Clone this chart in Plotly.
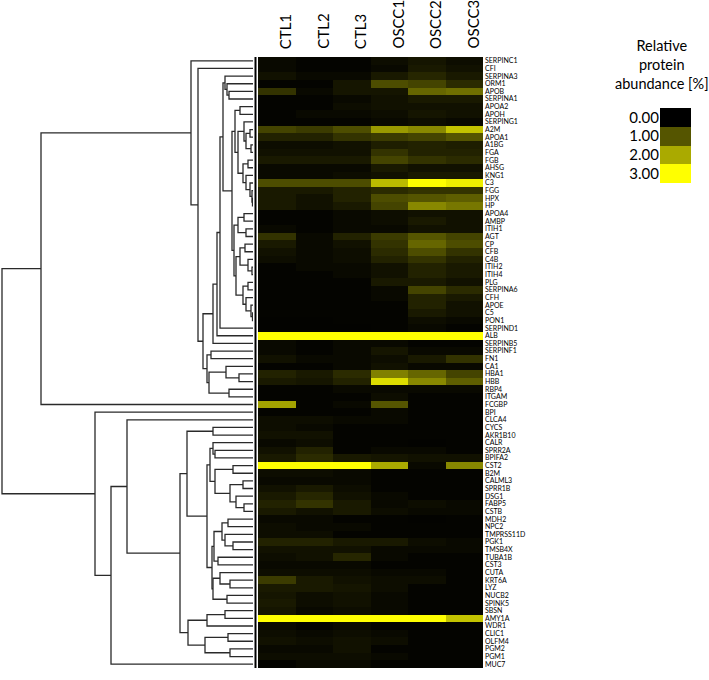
import plotly.graph_objects as go

# ---------------- data ----------------
samples = ["CTL1", "CTL2", "CTL3", "OSCC1", "OSCC2", "OSCC3"]

proteins = ["SERPINC1", "CFI", "SERPINA3", "ORM1", "APOB", "SERPINA1", "APOA2", "APOH",
            "SERPING1", "A2M", "APOA1", "A1BG", "FGA", "FGB", "AHSG", "KNG1", "C3", "FGG",
            "HPX", "HP", "APOA4", "AMBP", "ITIH1", "AGT", "CP", "CFB", "C4B", "ITIH2",
            "ITIH4", "PLG", "SERPINA6", "CFH", "APOE", "C5", "PON1", "SERPIND1", "ALB",
            "SERPINB5", "SERPINF1", "FN1", "CA1", "HBA1", "HBB", "RBP4", "ITGAM", "FCGBP",
            "BPI", "CLCA4", "CYCS", "AKR1B10", "CALR", "SPRR2A", "BPIFA2", "CST2", "B2M",
            "CALML3", "SPRR1B", "DSG1", "FABP5", "CSTB", "MDH2", "NPC2", "TMPRSS11D", "PGK1",
            "TMSB4X", "TUBA1B", "CST3", "CUTA", "KRT6A", "LYZ", "NUCB2", "SPINK5", "SBSN",
            "AMY1A", "WDR1", "CLIC1", "OLFM4", "PGM2", "PGM1", "MUC7"]

ctl1 = [0.1, 0.1, 0.2, 0.05, 0.6, 0.05, 0.05, 0.05, 0.05, 0.8, 0.4, 0.15, 0.2, 0.3, 0.1, 0.1,
        0.9, 0.3, 0.3, 0.3, 0.05, 0.05, 0.1, 0.6, 0.3, 0.2, 0.15, 0.05, 0.05, 0.05, 0.05, 0.05,
        0.05, 0.05, 0.03, 0.03, 3.0, 0.1, 0.1, 0.2, 0.05, 0.4, 0.3, 0.05, 0.05, 1.9, 0.05, 0.15,
        0.15, 0.2, 0.1, 0.2, 0.3, 3.0, 0.15, 0.1, 0.2, 0.3, 0.4, 0.3, 0.1, 0.15, 0.15, 0.4, 0.2,
        0.15, 0.1, 0.15, 0.7, 0.3, 0.25, 0.3, 0.25, 3.0, 0.1, 0.15, 0.2, 0.1, 0.15, 0.05]
ctl2 = [0.05, 0.05, 0.1, 0.05, 0.1, 0.05, 0.05, 0.1, 0.05, 0.7, 0.4, 0.15, 0.2, 0.3, 0.1, 0.1,
        0.9, 0.3, 0.2, 0.2, 0.05, 0.05, 0.05, 0.1, 0.1, 0.1, 0.1, 0.1, 0.05, 0.05, 0.05, 0.05,
        0.05, 0.05, 0.03, 0.03, 3.0, 0.05, 0.05, 0.1, 0.05, 0.3, 0.25, 0.05, 0.05, 0.05, 0.05, 0.15,
        0.1, 0.2, 0.15, 0.4, 0.5, 3.0, 0.15, 0.1, 0.3, 0.45, 0.6, 0.2, 0.1, 0.1, 0.15, 0.4, 0.2,
        0.2, 0.1, 0.15, 0.3, 0.3, 0.15, 0.15, 0.1, 3.0, 0.05, 0.1, 0.15, 0.1, 0.15, 0.1]
ctl3 = [0.05, 0.05, 0.1, 0.25, 0.25, 0.1, 0.15, 0.1, 0.05, 0.9, 0.6, 0.2, 0.2, 0.3, 0.1, 0.15,
        0.9, 0.4, 0.4, 0.3, 0.1, 0.1, 0.1, 0.4, 0.2, 0.15, 0.15, 0.1, 0.1, 0.05, 0.05, 0.05,
        0.05, 0.05, 0.05, 0.03, 3.0, 0.1, 0.1, 0.1, 0.1, 0.5, 0.4, 0.1, 0.05, 0.1, 0.05, 0.1,
        0.05, 0.05, 0.05, 0.05, 0.3, 3.0, 0.1, 0.1, 0.15, 0.2, 0.3, 0.3, 0.05, 0.1, 0.05, 0.3, 0.2,
        0.45, 0.1, 0.15, 0.2, 0.25, 0.2, 0.2, 0.15, 3.0, 0.1, 0.15, 0.2, 0.2, 0.15, 0.1]
oscc1 = [0.15, 0.1, 0.3, 0.9, 0.25, 0.2, 0.2, 0.15, 0.1, 1.8, 0.7, 0.35, 0.6, 0.8, 0.3, 0.2,
         2.2, 0.5, 0.9, 0.8, 0.15, 0.15, 0.1, 0.7, 0.6, 0.5, 0.4, 0.2, 0.2, 0.3, 0.1, 0.1,
         0.05, 0.05, 0.05, 0.05, 3.0, 0.1, 0.25, 0.15, 0.2, 1.5, 2.6, 0.1, 0.15, 1.0, 0.1, 0.1,
         0.05, 0.05, 0.05, 0.1, 0.25, 2.0, 0.05, 0.05, 0.05, 0.1, 0.1, 0.15, 0.05, 0.05, 0.05, 0.3,
         0.1, 0.1, 0.05, 0.1, 0.15, 0.15, 0.1, 0.1, 0.1, 3.0, 0.05, 0.1, 0.15, 0.05, 0.1, 0.05]
oscc2 = [0.25, 0.3, 0.45, 0.8, 1.2, 0.3, 0.2, 0.25, 0.15, 1.6, 0.8, 0.4, 0.4, 0.6, 0.2, 0.3,
         3.0, 0.6, 1.0, 1.6, 0.2, 0.3, 0.2, 1.0, 1.2, 0.9, 0.6, 0.4, 0.4, 0.3, 0.8, 0.4,
         0.4, 0.3, 0.15, 0.1, 3.0, 0.05, 0.1, 0.3, 0.1, 1.2, 1.6, 0.1, 0.05, 0.05, 0.05, 0.05,
         0.05, 0.05, 0.03, 0.1, 0.2, 0.1, 0.05, 0.05, 0.05, 0.05, 0.15, 0.1, 0.03, 0.05, 0.05, 0.15,
         0.1, 0.05, 0.05, 0.1, 0.15, 0.05, 0.05, 0.05, 0.05, 3.0, 0.05, 0.05, 0.05, 0.05, 0.05, 0.05]
oscc3 = [0.15, 0.2, 0.3, 0.5, 1.3, 0.3, 0.2, 0.2, 0.1, 2.3, 1.0, 0.35, 0.4, 0.5, 0.2, 0.3,
         2.8, 0.6, 1.1, 1.4, 0.2, 0.2, 0.2, 0.8, 0.9, 0.6, 0.4, 0.3, 0.3, 0.2, 0.5, 0.3,
         0.2, 0.2, 0.1, 0.05, 3.0, 0.05, 0.1, 0.6, 0.1, 0.8, 1.1, 0.1, 0.05, 0.05, 0.05, 0.05,
         0.05, 0.05, 0.05, 0.05, 0.2, 1.6, 0.05, 0.05, 0.05, 0.05, 0.1, 0.1, 0.05, 0.05, 0.05, 0.1,
         0.1, 0.05, 0.05, 0.05, 0.05, 0.05, 0.05, 0.05, 0.05, 2.3, 0.05, 0.05, 0.05, 0.05, 0.05, 0.05]

legend_values = [0, 1, 2, 3]
legend_labels = ["0.00", "1.00", "2.00", "3.00"]

# hierarchical clustering tree: [linkage distance, left child, right child]; ints are row indices
c1 = [18, [13, 6, 7], [15, [9, 8, [7, [3, 9, 10], [2, 11, 12]]],
                       [10, [5, 13, 14], [7, 15, [3, 16, [1, 17, [0.5, 18, 19]]]]]]]
c2 = [19, [15, [9, 20, 21], [7, 22, 23]],
      [17, [13, [8, 24, 25], [5, 26, [1, 27, 28]]],
           [10, [5, 29, 30], [7, 31, [2, 32, [0.5, 33, 34]]]]]]
core = [21, c1, c2]
upper = [28, 2, [26, 3, [24, 4, 5]]]
mid = [40, [36, [33, [30, upper, core], 35], 36], 37]
grp_s = [44, [27, 40, [14, 41, 42]], [24, 43, 44]]
lower = [46, [42, 38, 39], grp_s]
top_cluster = [62, 0, [55, 1, [50, mid, lower]]]
branch_i1 = [43, [40, 50, [38, 51, 52]],
             [38, [20, 53, 54], [23, [10, 55, 56], [17, 57, [9, 58, 59]]]]]
branch_i2 = [41, [39, [31, [25, 60, 61], [28, 62, [20, 63, 64]]], [35, 65, 66]],
             [40, [33, 67, [23, 68, 69]], [26, 70, 71]]]
branch_f = [66, [40, 48, 49], [46, branch_i1, branch_i2]]
branch_g = [65, [46, [28, 72, 73], 74], [48, [25, 75, 76], [23, 77, 78]]]
bottom_cluster = [158, 46, [142, [126, 47, [73, branch_f, branch_g]], 79]]
tree = [251, [212, top_cluster, 45], bottom_cluster]

# ---------------- build ----------------
z = [[ctl1[i], ctl2[i], ctl3[i], oscc1[i], oscc2[i], oscc3[i]] for i in range(len(proteins))]
rows = list(range(len(proteins)))

seg_x, seg_y = [], []


def walk(node):
    if isinstance(node, int):
        return 0.0, float(node)
    h, left, right = node
    hl, yl = walk(left)
    hr, yr = walk(right)
    seg_x.extend([hl, h, h, hr, None])
    seg_y.extend([yl, yl, yr, yr, None])
    return h, (yl + yr) / 2.0


walk(tree)

W, H = 709, 680
px = lambda v: v / W
py = lambda v: (H - v) / H
y_dom = [py(668), py(57)]

scale = [[0, "#000000"], [1, "#ffff00"]]
FONT = "Lato"

fig = go.Figure()
fig.add_trace(go.Heatmap(z=z, x=samples, y=rows, colorscale=scale, zmin=0, zmax=3,
                         showscale=False, xaxis="x", yaxis="y"))
fig.add_trace(go.Scatter(x=seg_x, y=seg_y, mode="lines", line=dict(color="#2a2a2a", width=1.3),
                         xaxis="x2", yaxis="y2", showlegend=False, hoverinfo="skip"))
fig.add_trace(go.Heatmap(z=[[v] for v in legend_values], x=[0], y=legend_values, colorscale=scale,
                         zmin=0, zmax=3, showscale=False, xaxis="x3", yaxis="y3"))

col_labels = [dict(text=s, x=s, xref="x", y=py(51), yref="paper", xanchor="center",
                   yanchor="bottom", textangle=-90, showarrow=False, xshift=9,
                   font=dict(size=15, family=FONT, color="black")) for s in samples]

fig.update_layout(
    width=W, height=H, margin=dict(l=0, r=0, t=0, b=0, autoexpand=False),
    paper_bgcolor="white", plot_bgcolor="white",
    font=dict(family=FONT, color="black"),
    showlegend=False,
    xaxis=dict(domain=[px(258), px(484)], showticklabels=False, ticks="", showgrid=False,
               zeroline=False, anchor="y", automargin=False),
    yaxis=dict(domain=y_dom, range=[len(proteins) - 0.5, -0.5], side="right",
               tickvals=rows, ticktext=proteins, tickfont=dict(size=7, color="black"), ticks="",
               showgrid=False, zeroline=False, anchor="x", automargin=False),
    xaxis2=dict(domain=[0, px(253)], range=[253, 0], visible=False, anchor="y2", automargin=False),
    yaxis2=dict(domain=y_dom, range=[len(proteins) - 0.5, -0.5], visible=False, anchor="x2",
                automargin=False),
    xaxis3=dict(domain=[px(660), px(691)], visible=False, anchor="y3", automargin=False),
    yaxis3=dict(domain=[py(183), py(108)], range=[3.5, -0.5], side="left", anchor="x3",
                tickvals=legend_values, ticktext=legend_labels, tickfont=dict(size=15),
                ticks="", showgrid=False, zeroline=False, automargin=False),
    shapes=[dict(type="line", xref="paper", yref="paper", x0=px(255.5), x1=px(255.5),
                 y0=y_dom[0], y1=y_dom[1], line=dict(color="black", width=2))],
    annotations=col_labels + [dict(text="Relative<br>protein<br>abundance [%]", xref="paper",
                                   yref="paper", x=px(662), y=py(35), xanchor="center",
                                   yanchor="top", showarrow=False, align="center",
                                   font=dict(size=14.5, family=FONT, color="black"))],
)

fig.write_html("out.html", config={"displayModeBar": False},
               post_script="document.body.style.margin='0px';")
